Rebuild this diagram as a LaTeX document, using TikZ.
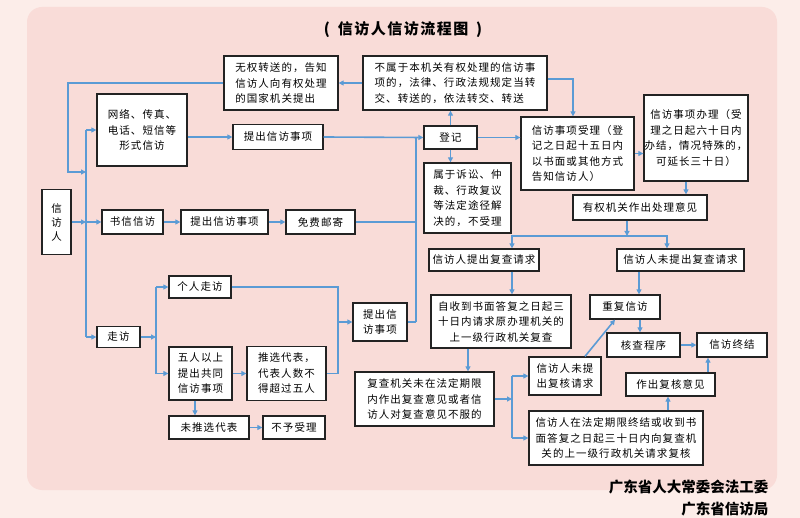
\documentclass[tikz,border=0pt]{standalone}
\usepackage{fontspec}
\setmainfont[LetterSpace=10]{Noto Sans CJK SC}
\newfontfamily\plainfont{Noto Sans CJK SC}
\usetikzlibrary{arrows.meta}
\definecolor{lblue}{RGB}{91,155,213}
\definecolor{outerbg}{RGB}{252,237,233}
\definecolor{innerbg}{RGB}{249,220,216}
\definecolor{boxline}{RGB}{35,35,35}
\tikzset{
  box/.style={draw=boxline, line width=1.3pt, fill=white, align=center, inner sep=0pt,
    font=\fontsize{10.5}{15.5}\selectfont},
  lbox/.style={box, align=left},
  ln/.style={draw=lblue, line width=1.6pt},
  arr/.style={ln, -{Triangle[length=5pt,width=5pt]}},
}
\begin{document}
\begin{tikzpicture}[x=1pt,y=-1pt]
\useasboundingbox (0,0) rectangle (800,518);
\fill[outerbg] (0,0) rectangle (800,518);
\fill[innerbg, rounded corners=15pt] (27,7) rectangle (777,490);

% title
\node[font=\fontsize{15}{18}\selectfont\bfseries] (title) at (403,30) {(\hspace{8pt}信访人信访流程图\hspace{8pt})};

% boxes
\node[lbox, minimum width=114pt, minimum height=54pt] (A) at (281,83) {无权转送的，告知\\信访人向有权处理\\的国家机关提出};
\node[lbox, minimum width=184pt, minimum height=54pt] (B) at (455,83) {不属于本机关有权处理的信访事\\项的，法律、行政法规规定当转\\交、转送的，依法转交、转送};
\node[box, minimum width=90pt, minimum height=72pt] (Net) at (142,130) {网络、传真、\\电话、短信等\\形式信访};
\node[box, minimum width=90pt, minimum height=25pt] (Tc1) at (278,137) {提出信访事项};
\node[box, minimum width=29pt, minimum height=65pt, font=\fontsize{10.5}{14}\selectfont] (Xfr) at (56.5,222) {信\\访\\人};
\node[box, minimum width=61pt, minimum height=24pt] (Sx) at (132.5,222) {书信信访};
\node[box, minimum width=87pt, minimum height=24pt] (Tc2) at (224.5,222) {提出信访事项};
\node[box, minimum width=69pt, minimum height=24pt] (Mf) at (320.5,222) {免费邮寄};
\node[box, minimum width=53pt, minimum height=23pt] (Dj) at (450.5,137.5) {登记};
\node[box, minimum width=87pt, minimum height=70pt] (Bsl) at (467.5,198) {属于诉讼、仲\\裁、行政复议\\等法定途径解\\决的，不受理};
\node[lbox, minimum width=113pt, minimum height=73pt] (Sl) at (577.5,153.5) {信访事项受理（登\\记之日起十五日内\\以书面或其他方式\\告知信访人）};
\node[box, minimum width=104pt, minimum height=86pt] (Bl) at (696,138) {信访事项办理（受\\理之日起六十日内\\办结，情况特殊的，\\可延长三十日）};
\node[box, minimum width=134pt, minimum height=25pt] (Yq) at (640,207.5) {有权机关作出处理意见};
\node[box, minimum width=110pt, minimum height=22pt] (Tf) at (484,260) {信访人提出复查请求};
\node[box, minimum width=127pt, minimum height=22pt] (Wf) at (680.5,260) {信访人未提出复查请求};
\node[box, minimum width=140pt, minimum height=53pt] (Zs) at (501,321.5) {自收到书面答复之日起三\\十日内请求原办理机关的\\上一级行政机关复查};
\node[box, minimum width=70pt, minimum height=24pt] (Cf) at (625,307) {重复信访};
\node[box, minimum width=73pt, minimum height=24pt] (Hc) at (643.5,345) {核查程序};
\node[box, minimum width=70pt, minimum height=24pt] (Zj) at (732,345) {信访终结};
\node[box, minimum width=139pt, minimum height=54pt] (Fc) at (424.5,399) {复查机关未在法定期限\\内作出复查意见或者信\\访人对复查意见不服的};
\node[box, minimum width=72pt, minimum height=38pt] (Wh) at (565,376) {信访人未提\\出复核请求};
\node[box, minimum width=89pt, minimum height=23pt] (Zh) at (670.5,384.5) {作出复核意见};
\node[box, minimum width=174pt, minimum height=54pt] (Qh) at (616,438) {信访人在法定期限终结或收到书\\面答复之日起三十日内向复查机\\关的上一级行政机关请求复核};
\node[box, minimum width=43pt, minimum height=21pt] (Zf) at (118.5,337) {走访};
\node[box, minimum width=62pt, minimum height=22pt] (Gr) at (200,287) {个人走访};
\node[box, minimum width=54pt, minimum height=38pt] (Tc3) at (380,322) {提出信\\访事项};
\node[box, minimum width=63pt, minimum height=53pt] (Wr) at (200.5,373.5) {五人以上\\提出共同\\信访事项};
\node[lbox, minimum width=79pt, minimum height=54pt] (Tx) at (286.5,373.5) {推选代表，\\代表人数不\\得超过五人};
\node[box, minimum width=80pt, minimum height=23pt] (Wt) at (209,427.5) {未推选代表};
\node[box, minimum width=62pt, minimum height=23pt] (By) at (294,427.5) {不予受理};

% footer
\node[anchor=east, font=\plainfont\fontsize{14.5}{17}\selectfont\bfseries] (f1) at (772,487) {广东省人大常委会法工委};
\node[anchor=east, font=\plainfont\fontsize{14.5}{17}\selectfont\bfseries] (f2) at (772,509) {广东省信访局};

% bus coordinates
\coordinate (b1) at (86,130);
\coordinate (b2) at (86,222);
\coordinate (b3) at (86,337);
\coordinate (v1) at (416,137.5);
\coordinate (v2) at (416,222);
\coordinate (v3) at (416,322);
\coordinate (j1) at (627,236);
\coordinate (j2) at (512,399);
\coordinate (j2t) at (512,376);
\coordinate (j2b) at (512,438);
\coordinate (k1) at (156,337);
\coordinate (k1t) at (156,287);
\coordinate (k1b) at (156,373.5);
\coordinate (m1) at (338,287);
\coordinate (m2) at (338,322);
\coordinate (m3) at (338,373.5);

% connectors
\draw[arr] (B.west) -- (A.east);
\draw[arr] (A.west) -- (68,83) -- (68,172) -- (86,172);
\draw[ln] (b1) -- (b3);
\draw[arr] (b1) -- (Net.west);
\draw[arr] (Xfr.east) -- (b2);
\draw[arr] (b2) -- (Sx.west);
\draw[arr] (b3) -- (Zf.west);
\draw[arr] (Sx) -- (Tc2);
\draw[arr] (Tc2) -- (Mf);
\draw[arr] (Net.east |- Tc1.west) -- (Tc1.west);
\draw[arr] (Tc1.east) -- (Dj.west);
\draw[ln] (v1) -- (v3);
\draw[ln] (Mf.east) -- (v2);
\draw[ln] (Tc3.east) -- (v3);
\draw[arr] (Dj.north) -- ([xshift=-4.5pt]B.south);
\draw[arr] (Dj.south) -- ([xshift=-17pt]Bsl.north);
\draw[arr] (Dj.east) -- (Dj.east -| Sl.west);
\draw[arr] ([yshift=4pt]B.east) -| ([xshift=-4.5pt]Sl.north);
\draw[arr] (Sl.east) -- (Sl.east -| Bl.west);
\draw[arr] ([xshift=-10pt]Bl.south) -- ([xshift=46pt]Yq.north);
\draw[arr] ([xshift=-13pt]Yq.south) -- (j1);
\draw[arr] (j1) -| ([xshift=28pt]Tf.north);
\draw[arr] (j1) -| ([xshift=-13.5pt]Wf.north);
\draw[arr] ([xshift=28pt]Tf.south) -- ([xshift=11pt]Zs.north);
\draw[arr] ([xshift=-41.5pt]Wf.south) -- ([xshift=14pt]Cf.north);
\draw[arr] ([xshift=15pt]Cf.south) -- ([xshift=-3.5pt]Hc.north);
\draw[arr] (Hc) -- (Zj);
\draw[arr] ([xshift=-33pt]Zs.south) -- ([xshift=43.5pt]Fc.north);
\draw[arr] (Fc.east) -- (j2);
\draw[ln] (j2t) -- (j2b);
\draw[arr] (j2t) -- (Wh.west);
\draw[arr] (j2b) -- (Qh.west);
\draw[arr] ([xshift=20pt]Wh.north) -- ([xshift=-10pt]Cf.south);
\draw[arr] ([xshift=52pt]Qh.north) -- ([xshift=-2.5pt]Zh.south);
\draw[arr] ([xshift=37.5pt]Zh.north) -- ([xshift=-24pt]Zj.south);
\draw[arr] (Zf.east) -- (k1);
\draw[ln] (k1t) -- (k1b);
\draw[arr] (k1t) -- (Gr.west);
\draw[arr] (k1b) -- (Wr.west);
\draw[ln] (Gr.east) -- (m1) -- (m3) -- (Tx.east);
\draw[arr] (m2) -- (Tc3.west);
\draw[arr] (Wr) -- (Tx);
\draw[arr] ([xshift=-5.5pt]Wr.south) -- ([xshift=-14pt]Wt.north);
\draw[arr] (Wt) -- (By);
\end{tikzpicture}
\end{document}
